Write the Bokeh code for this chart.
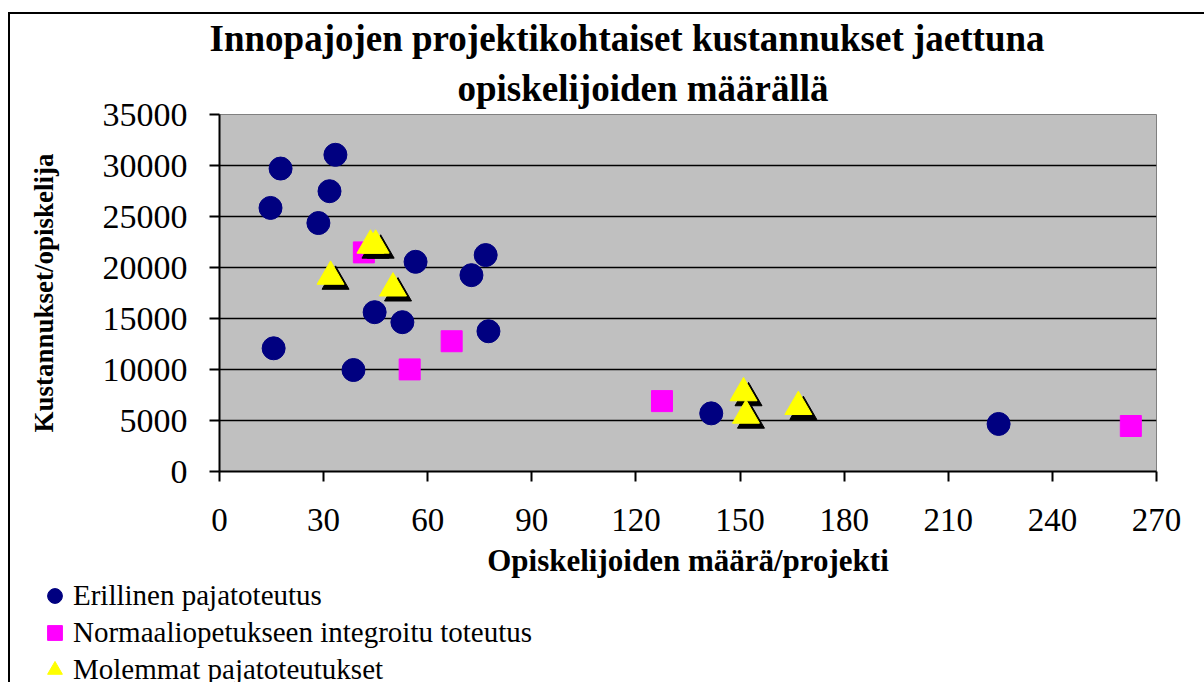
from bokeh.plotting import figure
from bokeh.models import Range1d, Title, Legend, LegendItem, NumeralTickFormatter
from bokeh.embed import file_html
from bokeh.resources import INLINE

# ---- texts ----
title_line1 = "Innopajojen projektikohtaiset kustannukset jaettuna"
title_line2 = "opiskelijoiden määrällä"
x_label = "Opiskelijoiden määrä/projekti"
y_label = "Kustannukset/opiskelija"
series_names = ["Erillinen pajatoteutus",
                "Normaaliopetukseen integroitu toteutus",
                "Molemmat pajatoteutukset"]

# ---- ticks ----
x_ticks = [0, 30, 60, 90, 120, 150, 180, 210, 240, 270]
y_ticks = [0, 5000, 10000, 15000, 20000, 25000, 30000, 35000]

# ---- data ----
erillinen_x = [17.6, 33.4, 31.7, 14.7, 28.5, 56.5, 76.7, 72.6, 44.7, 52.7, 77.5, 15.6, 38.6, 141.7, 224.5]
erillinen_y = [29700, 31050, 27480, 25840, 24360, 20560, 21220, 19250, 15620, 14640, 13750, 12080, 9950, 5700, 4660]

integroitu_x = [41.6, 66.9, 54.8, 127.5, 262.6]
integroitu_y = [21480, 12770, 10010, 6900, 4460]

molemmat_x = [43.5, 45.0, 32.0, 50.0, 151.0, 151.7, 166.8]
molemmat_y = [22170, 22170, 19120, 17970, 7700, 5500, 6350]

FONT = "Liberation Serif"
FRAME_W, FRAME_H = 937, 357
X_MAX, Y_MAX = 270, 35000
NAVY, MAGENTA, YELLOW = "#000080", "#FF00FF", "#FFFF00"

p = figure(frame_width=FRAME_W, frame_height=FRAME_H,
           min_border_left=209, min_border_right=48,
           min_border_top=100, min_border_bottom=130,
           x_range=Range1d(0, X_MAX), y_range=Range1d(0, Y_MAX),
           output_backend="svg", toolbar_location=None, title=None)

p.styles = {"border-top": "2px solid black", "border-left": "2px solid black",
            "margin-top": "12px", "margin-left": "8px"}

p.background_fill_color = "#C0C0C0"
p.border_fill_color = "white"
p.outline_line_color = "#808080"
p.outline_line_width = 1

for ax in (p.xaxis[0], p.yaxis[0]):
    ax.axis_line_color = "black"
    ax.axis_line_width = 2
    ax.major_tick_line_color = "black"
    ax.major_tick_line_width = 2
    ax.major_tick_out = 10
    ax.major_tick_in = 0
    ax.minor_tick_line_color = None
    ax.major_label_text_font = FONT
    ax.major_label_text_font_size = "33px"
    ax.major_label_text_color = "black"
    ax.axis_label_text_font = FONT
    ax.axis_label_text_font_style = "bold"
    ax.axis_label_text_color = "black"

p.yaxis.major_label_text_font_size = "34px"
p.xaxis.ticker = x_ticks
p.yaxis.ticker = y_ticks
p.yaxis.formatter = NumeralTickFormatter(format="0")
p.xaxis.axis_label = x_label
p.yaxis.axis_label = y_label
p.xaxis.axis_label_text_font_size = "31px"
p.yaxis.axis_label_text_font_size = "27px"
p.xaxis.major_label_standoff = 27
p.yaxis.major_label_standoff = 22
p.xaxis.axis_label_standoff = 9
p.yaxis.axis_label_standoff = 41

p.xgrid.visible = False
p.ygrid.ticker = y_ticks
p.ygrid.grid_line_color = "black"
p.ygrid.grid_line_width = 1.5

# shadow offset of 5 screen pixels, expressed through the scales
dx = 5 * X_MAX / FRAME_W
dy = 5 * Y_MAX / FRAME_H

p.scatter(erillinen_x, erillinen_y, marker="circle", size=23,
          fill_color=NAVY, line_color=NAVY)
p.scatter(integroitu_x, integroitu_y, marker="square", size=21,
          fill_color=MAGENTA, line_color=MAGENTA)
p.scatter([v + dx for v in molemmat_x], [v - dy for v in molemmat_y],
          marker="triangle", size=27, fill_color="black", line_color="black")
p.scatter(molemmat_x, molemmat_y, marker="triangle", size=27,
          fill_color=YELLOW, line_color=YELLOW)

t2 = Title(text=title_line2, align="left", offset=238, standoff=11, text_font=FONT,
           text_font_size="37px", text_font_style="bold", text_color="black")
t1 = Title(text=title_line1, align="left", offset=-10, standoff=3, text_font=FONT,
           text_font_size="37px", text_font_style="bold", text_color="black")
p.add_layout(t2, "above")
p.add_layout(t1, "above")

# ---- legend strip below the chart (continues the chart's left border) ----
q = figure(width=1194, height=105,
           min_border_left=0, min_border_right=0, min_border_top=0, min_border_bottom=0,
           x_axis_type=None, y_axis_type=None,
           x_range=Range1d(0, 1), y_range=Range1d(0, 1),
           output_backend="svg", toolbar_location=None, title=None)
q.styles = {"border-left": "2px solid black", "margin-left": "8px",
            "margin-top": "-24px"}
q.outline_line_color = None
q.background_fill_alpha = 0
q.border_fill_alpha = 0
q.xgrid.visible = False
q.ygrid.visible = False

# legend key renderers: same series, lying outside this strip's ranges
k_circ = q.scatter(erillinen_x, erillinen_y, marker="circle", fill_color=NAVY, line_color=NAVY)
k_sq = q.scatter(integroitu_x, integroitu_y, marker="square", fill_color=MAGENTA, line_color=MAGENTA)
k_tri = q.scatter(molemmat_x, molemmat_y, marker="triangle", fill_color=YELLOW, line_color=YELLOW)

legend = Legend(items=[LegendItem(label=series_names[0], renderers=[k_circ]),
                       LegendItem(label=series_names[1], renderers=[k_sq]),
                       LegendItem(label=series_names[2], renderers=[k_tri])],
                location=(26, -6))
legend.label_text_font = FONT
legend.label_text_font_size = "29px"
legend.label_text_color = "black"
legend.background_fill_alpha = 0
legend.border_line_alpha = 0
legend.padding = 0
legend.margin = 0
legend.spacing = 0
legend.glyph_height = 37
legend.glyph_width = 37
legend.label_height = 20
legend.label_standoff = 0
q.add_layout(legend, "center")

open("out.html", "w").write(file_html([p, q], INLINE))
